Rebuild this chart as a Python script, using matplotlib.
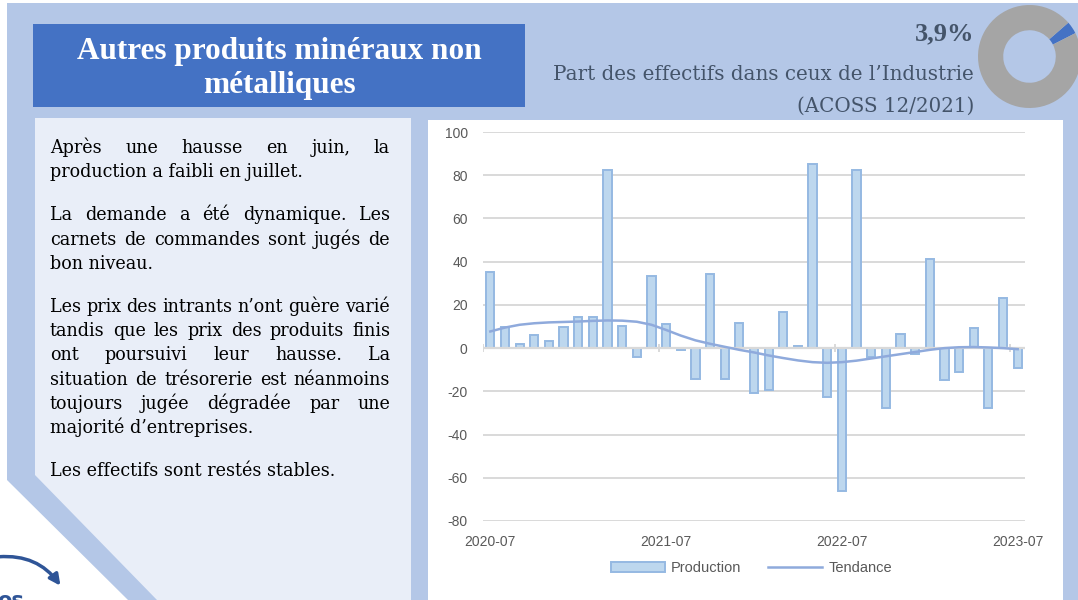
import matplotlib
matplotlib.use('Agg')
import matplotlib.pyplot as plt
import pandas as pd
from matplotlib.patches import Polygon, Rectangle, Patch, FancyArrowPatch
from matplotlib.lines import Line2D

# ---------------- data ----------------
months = [str(p) for p in pd.period_range('2020-07', '2023-07', freq='M')]
production = [35, 10, 2, 6, 3.2, 10, 14.2, 14.6, 82.3, 10.3, -4.2, 33.5,
              11.2, -1, -14.3, 34.5, -14.3, 11.7, -20.8, -19.2, 16.6, 1.2,
              85.1, -22.6, -66.2, 82.5, -4.3, -27.5, 6.3, -2.6, 41.4, -14.6,
              -11.1, 9.4, -27.5, 23.1, -9.1]
tendance = [7.7, 9.5, 10.8, 11.5, 11.9, 12.1, 12.3, 12.6, 12.8, 12.7, 12.2,
            10.8, 8.4, 5.8, 3.6, 2.0, 0.6, -0.8, -2.0, -3.4, -4.6, -5.7, -6.5,
            -6.8, -6.5, -5.8, -4.8, -3.8, -2.8, -1.8, -0.8, 0.0, 0.4, 0.5,
            0.3, 0.0, -0.5]
xtick_labels = ['2020-07', '2021-07', '2022-07', '2023-07']
yticks = [-80, -60, -40, -20, 0, 20, 40, 60, 80, 100]
share_pct = 3.9

title_lines = ['Autres produits minéraux non', 'métalliques']
share_label = '3,9%'
share_sub = ['Part des effectifs dans ceux de l’Industrie', '(ACOSS 12/2021)']
paragraphs = [
    [('Après une hausse en juin, la', True),
     ('production a faibli en juillet.', False)],
    [('La demande a été dynamique. Les', True),
     ('carnets de commandes sont jugés de', True),
     ('bon niveau.', False)],
    [('Les prix des intrants n’ont guère varié', True),
     ('tandis que les prix des produits finis', True),
     ('ont poursuivi leur hausse. La', True),
     ('situation de trésorerie est néanmoins', True),
     ('toujours jugée dégradée par une', True),
     ('majorité d’entreprises.', False)],
    [('Les effectifs sont restés stables.', False)],
]

# ---------------- colours ----------------
FRAME = '#B4C7E7'
PANEL = '#E9EEF8'
TITLE_BG = '#4472C4'
SLATE = '#44546A'
BAR_FACE = '#BDD7EE'
BAR_EDGE = '#95B9E2'
TREND = '#8FAADC'
GRID = '#D9D9D9'
TICKTXT = '#595959'

W, H = 1078, 600
fig = plt.figure(figsize=(W / 100, H / 100), dpi=100)
fig.patch.set_facecolor('white')

# background layer in pixel coordinates
bg = fig.add_axes([0, 0, 1, 1])
bg.set_xlim(0, W)
bg.set_ylim(H, 0)
bg.axis('off')

bg.add_patch(Polygon([(7, 3), (W, 3), (W, H), (128, H), (7, 480)],
                     closed=True, facecolor=FRAME, edgecolor='none'))
bg.add_patch(Polygon([(35, 118), (411, 118), (411, H), (157, H), (35, 475)],
                     closed=True, facecolor=PANEL, edgecolor='none'))
bg.add_patch(Rectangle((428, 120), 1063 - 428, H - 120,
                       facecolor='white', edgecolor='none'))
bg.add_patch(Rectangle((33, 24), 525 - 33, 107 - 24,
                       facecolor=TITLE_BG, edgecolor='none'))

# title
for i, t in enumerate(title_lines):
    bg.text(279, 59 + i * 34, t, ha='center', va='baseline', color='white',
            fontsize=22.5, fontweight='bold', family='Liberation Serif')

# share text
bg.text(974, 40, share_label, ha='right', va='baseline', color=SLATE,
        fontsize=19, fontweight='bold', family='Liberation Serif')
for i, t in enumerate(share_sub):
    bg.text(974, 80 + i * 32, t, ha='right', va='baseline', color=SLATE,
            fontsize=14.3, family='DejaVu Serif')

# logo fragment bottom-left
bg.add_patch(FancyArrowPatch((-4, 557), (62, 588),
                             connectionstyle='arc3,rad=-0.3',
                             arrowstyle='-|>', mutation_scale=16,
                             color='#2F5597', lw=2.5))
bg.text(-3, 607, 'os', ha='left', va='baseline', color='#2F5597',
        fontsize=15, fontweight='bold', family='DejaVu Sans')

# body text, justified
X0, X1 = 50, 390
body_kw = dict(fontsize=12.65, family='DejaVu Serif', color='black',
               ha='left', va='baseline')
renderer = fig.canvas.get_renderer()


def put_line(txt, y, justify):
    if not justify:
        bg.text(X0, y, txt, **body_kw)
        return
    words = txt.split()
    ts = [bg.text(0, y, w, **body_kw) for w in words]
    ws = [t.get_window_extent(renderer).width for t in ts]
    gap = (X1 - X0 - sum(ws)) / (len(words) - 1)
    x = X0
    for t, w in zip(ts, ws):
        t.set_x(x)
        x += w + gap


y = 153
for para in paragraphs:
    for txt, just in para:
        put_line(txt, y, just)
        y += 24.2
    y += 19

# donut
dax = fig.add_axes([978 / W, 1 - 108 / H, 103 / W, 103 / H])
dax.pie([share_pct, 100 - share_pct], colors=[TITLE_BG, '#A5A5A5'],
        startangle=27, counterclock=True,
        wedgeprops=dict(width=0.49, edgecolor='none'))
dax.set_aspect('equal')
dax.set_xlim(-1, 1)
dax.set_ylim(-1, 1)

# ---------------- chart ----------------
ax = fig.add_axes([483 / W, 1 - 521 / H, (1025 - 483) / W, (521 - 132) / H])
ax.set_facecolor('none')
xs = list(range(len(months)))
ax.bar(xs, production, width=0.56, color=BAR_FACE, edgecolor=BAR_EDGE,
       linewidth=1.4, zorder=2, label='Production')
ax.plot(xs, tendance, color=TREND, lw=1.8, zorder=4, label='Tendance')
ax.set_xlim(-0.5, len(months) - 0.5)
ax.set_ylim(-80, 100)
ax.set_yticks(yticks)
ax.set_yticklabels([str(v) for v in yticks])
ax.yaxis.grid(True, color=GRID, lw=1.4, zorder=0)
ax.set_axisbelow(True)
ax.axhline(0, color=GRID, lw=1.6, zorder=3)
# category tick marks on the zero line every 12 months
for b in range(0, len(months) + 1, 12):
    ax.plot([b - 0.5, b - 0.5], [-1.5, 1.5], color=GRID, lw=1.4, zorder=3)
ax.set_xticks([months.index(m) for m in xtick_labels])
ax.set_xticklabels(xtick_labels)
for s in ax.spines.values():
    s.set_visible(False)
ax.tick_params(axis='both', length=0, labelcolor=TICKTXT, labelsize=10)
ax.tick_params(axis='y', pad=11)
ax.tick_params(axis='x', pad=10)
for lab in ax.get_xticklabels() + ax.get_yticklabels():
    lab.set_family('Liberation Sans')

handles = [Patch(facecolor=BAR_FACE, edgecolor=BAR_EDGE, lw=1.4),
           Line2D([0], [0], color=TREND, lw=1.8)]
leg = ax.legend(handles, ['Production', 'Tendance'], loc='center',
                bbox_to_anchor=(0.495, -0.121), ncol=2, frameon=False,
                handlelength=3.7, handleheight=0.6, handletextpad=0.45,
                columnspacing=1.8,
                prop={'family': 'Liberation Sans', 'size': 10.5})
for t in leg.get_texts():
    t.set_color(TICKTXT)

fig.savefig('out.png', dpi=100)
